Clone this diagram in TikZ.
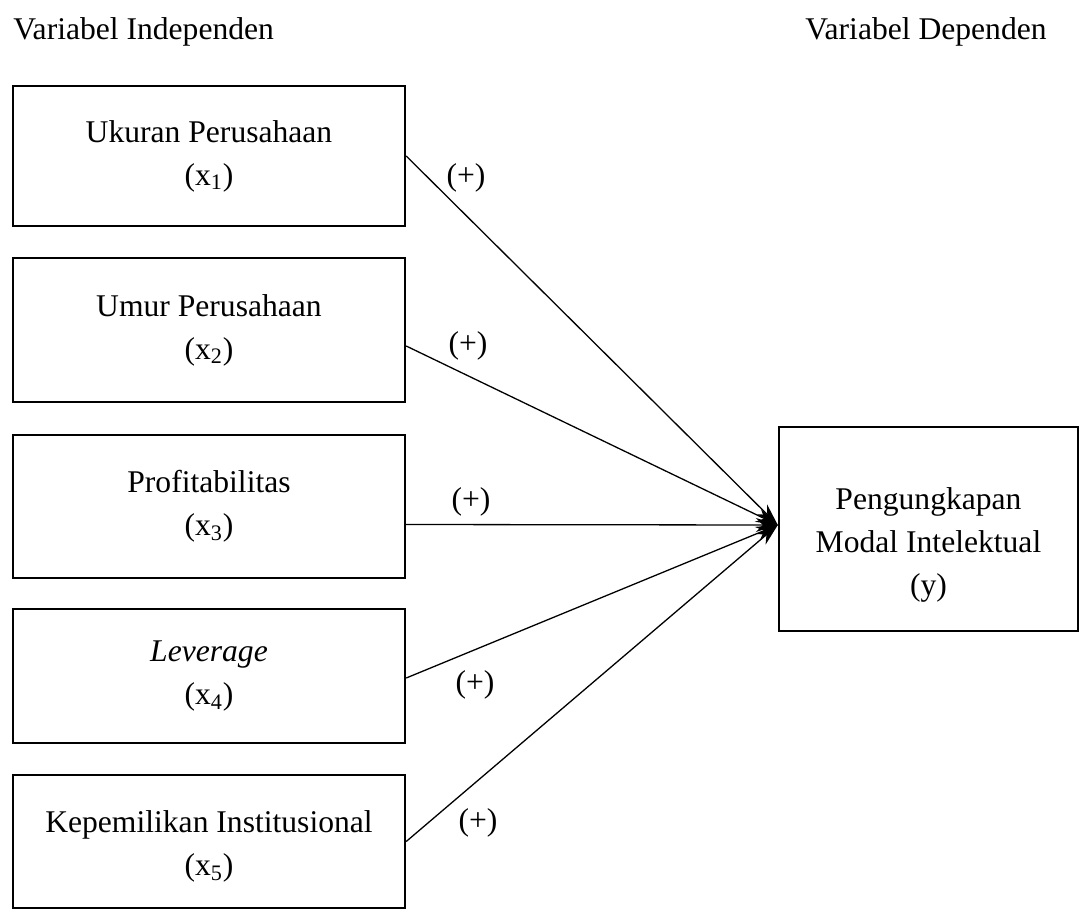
\documentclass[tikz,border=0pt]{standalone}
\usepackage{fontspec}
\setmainfont{Liberation Serif}
\usetikzlibrary{arrows.meta}

\begin{document}
\begin{tikzpicture}[x=0.5pt,y=-0.5pt,font=\fontsize{15.8}{21.5}\selectfont]
	\tikzstyle{var}=[draw=black,line width=1.2pt,minimum width=196pt,align=center,inner sep=0pt]
	\tikzstyle{edge}=[draw=black,line width=0.65pt,-{Stealth[length=11pt,width=7pt]}]
	\tikzstyle{sign}=[inner sep=0pt]

	\useasboundingbox (0,0) rectangle (1082,911);

	% judul kolom
	\node [anchor=base west,inner sep=0pt] (tind) at (13,39) {Variabel Independen};
	\node [anchor=base east,inner sep=0pt] (tdep) at (1047,39) {Variabel Dependen};

	% variabel independen
	\node [var,minimum height=70pt] (x1) at (209,156) {Ukuran Perusahaan\\(x\textsubscript{1})};
	\node [var,minimum height=72pt] (x2) at (209,330) {Umur Perusahaan\\(x\textsubscript{2})};
	\node [var,minimum height=71.5pt] (x3) at (209,506.5) {Profitabilitas\\(x\textsubscript{3})};
	\node [var,minimum height=67pt] (x4) at (209,676) {\textit{Leverage}\\(x\textsubscript{4})};
	\node [var,minimum height=66.5pt] (x5) at (209,841.5) {};
	\node [align=center,inner sep=0pt] (x5t) at ([yshift=-2.5pt]x5.center) {Kepemilikan Institusional\\(x\textsubscript{5})};

	% variabel dependen
	\node [var,minimum width=149.5pt,minimum height=102pt] (y) at (928.5,529) {};
	\node [align=center,inner sep=0pt] (yt) at ([yshift=-8pt]y.center) {Pengungkapan\\Modal Intelektual\\(y)};
	\coordinate (tip) at ([yshift=2pt]y.west);

	\path[edge] (x1.east) -- (tip);
	\path[edge] ([yshift=-8pt]x2.east) -- (tip);
	\path[edge] ([yshift=-9pt]x3.east) -- (tip);
	\path[edge] ([yshift=-1pt]x4.east) -- (tip);
	\path[edge] (x5.east) -- (tip);

	\node [sign] (p1) at (466,178) {(+)};
	\node [sign] (p2) at (468,346) {(+)};
	\node [sign] (p3) at (471,502) {(+)};
	\node [sign] (p4) at (475,685) {(+)};
	\node [sign] (p5) at (478,823) {(+)};
\end{tikzpicture}
\end{document}
